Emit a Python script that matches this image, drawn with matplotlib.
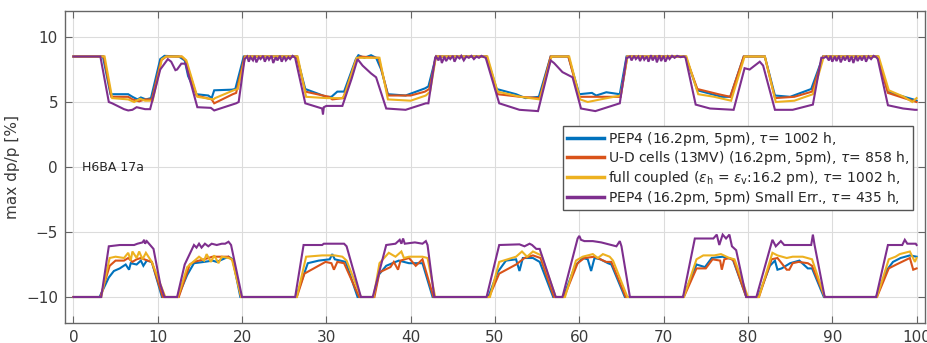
import matplotlib
matplotlib.use("Agg")
import matplotlib.pyplot as plt
from matplotlib.lines import Line2D

plt.rcParams['font.family'] = ['DejaVu Sans']
plt.rcParams['mathtext.fontset'] = 'dejavusans'

# ---- data: momentum acceptance along the ring (s in % of circumference) ----
# PEP4 (16.2pm, 5pm)
pep4_up_s = [0, 3.5, 4.4, 6.5, 7.0, 7.6, 8.0, 8.6, 9.2, 10.3, 10.8, 12.5, 13.2, 13.6, 14.6, 16.0,
             16.4, 16.7, 18.8, 19.2, 20.2, 26.5, 27.5, 30.0, 30.6, 31.3, 32.1, 33.5, 33.8, 34.5,
             35.3, 35.9, 36.5, 37.3, 39.4, 41.7, 42.1, 43.0, 49.0, 50.2, 52.5, 53.6, 55.2, 56.6,
             58.7, 60.0, 61.5, 62.0, 63.2, 64.8, 65.6, 72.6, 74.0, 76.9, 77.9, 79.5, 82.0, 83.2,
             85.0, 87.5, 88.9, 95.4, 96.6, 98.0, 99.6, 100]
pep4_up = [8.5, 8.5, 5.6, 5.6, 5.4, 5.2, 5.35, 5.2, 5.3, 8.3, 8.55, 8.5, 8.2, 7.0, 5.6, 5.5,
           5.3, 5.9, 5.95, 6.0, 8.5, 8.5, 6.0, 5.4, 5.4, 5.8, 5.8, 8.3, 8.6, 8.4,
           8.6, 8.4, 7.5, 5.6, 5.5, 6.05, 6.2, 8.5, 8.5, 6.0, 5.6, 5.3, 5.4, 8.5,
           8.5, 5.6, 5.7, 5.5, 5.75, 5.6, 8.5, 8.5, 5.9, 5.4, 5.4, 8.5, 8.5, 5.5,
           5.4, 6.0, 8.5, 8.5, 5.8, 5.5, 5.2, 5.1]
pep4_lo_s = [0, 3.1, 4.2, 4.8, 5.5, 6.2, 6.6, 6.8, 7.5, 8.0, 8.3, 8.7, 9.3, 10.5, 12.4, 13.5,
             14.3, 15.5, 16.5, 17.0, 18.4, 18.9, 19.8, 26.4, 27.8, 29.1, 30.4, 30.7, 31.0, 32.3,
             33.7, 35.6, 36.2, 37.1, 38.2, 38.6, 39.8, 41.4, 42.6, 49.2, 50.3, 51.3, 52.5, 52.9,
             53.3, 54.5, 55.3, 56.9, 58.1, 59.5, 60.4, 61.0, 61.4, 61.8, 62.5, 63.4, 63.8, 65.4,
             72.3, 73.9, 74.9, 75.7, 77.0, 78.2, 79.8, 81.2, 82.6, 83.2, 83.5, 84.0, 85.0, 86.1,
             87.1, 87.6, 89.0, 95.2, 96.5, 97.2, 98.1, 99.2, 100]
pep4_lo = [-10, -10, -8.5, -8.0, -7.8, -7.5, -7.9, -7.4, -7.5, -7.2, -7.6, -7.2, -7.3, -10, -10, -8.3,
           -7.4, -7.3, -7.2, -7.3, -6.9, -7.1, -10, -10, -7.4, -7.2, -7.1, -6.7, -7.1, -7.3,
           -10, -10, -8.3, -7.6, -7.3, -7.2, -7.4, -7.4, -10, -10, -8.1, -7.2, -7.1, -8.0,
           -7.0, -7.0, -7.3, -10, -10, -7.6, -7.0, -7.1, -8.0, -7.0, -7.1, -7.4, -7.5, -10,
           -10, -7.5, -7.7, -7.0, -6.9, -7.1, -10, -10, -7.6, -7.2, -7.9, -7.8, -7.4, -7.2,
           -7.8, -7.8, -10, -10, -7.9, -7.3, -7.0, -6.8, -6.9]

# U-D cells (13MV)
ud_up_s = [0, 3.6, 4.5, 6.5, 7.0, 7.8, 8.5, 9.3, 10.4, 11.0, 12.8, 13.3, 14.6, 16.4, 16.7, 18.9,
           19.3, 20.3, 26.5, 27.5, 30.3, 30.7, 32.0, 33.5, 34.0, 36.2, 37.3, 40.0, 41.7, 42.2,
           43.0, 49.0, 50.3, 53.0, 55.3, 56.6, 58.7, 60.0, 62.0, 64.9, 65.7, 72.6, 74.0, 76.5,
           77.9, 79.5, 82.0, 83.2, 85.5, 87.6, 88.9, 95.4, 96.6, 98.5, 100]
ud_up = [8.5, 8.5, 5.4, 5.4, 5.2, 5.05, 5.2, 5.2, 8.2, 8.5, 8.5, 8.2, 5.5, 5.2, 4.9, 5.6,
         5.7, 8.5, 8.5, 5.8, 5.4, 5.2, 5.3, 8.2, 8.5, 8.4, 5.5, 5.5, 5.8, 6.0,
         8.5, 8.5, 5.6, 5.4, 5.3, 8.5, 8.5, 5.4, 5.4, 5.4, 8.5, 8.5, 6.0, 5.6,
         5.4, 8.5, 8.5, 5.3, 5.4, 5.8, 8.5, 8.5, 5.7, 5.3, 5.0]
ud_lo_s = [0, 3.2, 4.3, 5.0, 6.0, 6.5, 7.0, 7.5, 8.0, 8.8, 9.3, 10.6, 12.5, 13.8, 14.3, 15.5,
           16.5, 18.4, 18.9, 19.9, 26.5, 27.4, 29.9, 30.6, 30.9, 31.3, 32.1, 33.9, 35.7, 36.3,
           37.6, 38.0, 38.5, 38.8, 39.8, 40.6, 41.4, 42.7, 49.3, 50.5, 52.5, 53.5, 54.5, 55.4,
           57.0, 58.2, 59.8, 60.6, 61.8, 63.2, 63.8, 65.5, 72.4, 73.9, 75.0, 75.8, 76.7, 76.9,
           77.2, 77.8, 78.3, 79.8, 81.3, 82.8, 83.5, 84.6, 84.9, 85.3, 86.0, 87.1, 87.6, 89.1,
           95.3, 96.7, 97.6, 99.2, 99.6, 100]
ud_lo = [-10, -10, -7.6, -7.2, -7.2, -7.0, -7.3, -7.1, -7.0, -7.2, -7.3, -10, -10, -7.5, -7.3, -7.1,
         -6.9, -6.9, -7.2, -10, -10, -8.2, -7.3, -7.4, -7.9, -7.3, -7.4, -10, -10, -8.1,
         -7.7, -7.3, -7.9, -7.2, -7.0, -7.6, -7.1, -10, -10, -8.2, -7.5, -7.0, -6.8, -7.0,
         -10, -10, -7.4, -7.0, -6.9, -7.3, -7.3, -10, -10, -7.8, -7.8, -7.1, -7.2, -7.9,
         -7.1, -7.0, -7.2, -10, -10, -7.1, -7.0, -7.9, -7.9, -7.4, -7.3, -7.4, -7.6, -10,
         -10, -7.8, -7.5, -7.0, -7.9, -7.8]

# full coupled (eps_h = eps_v)
fc_up_s = [0, 3.7, 4.6, 6.5, 7.2, 7.9, 8.5, 9.4, 10.5, 11.0, 12.9, 13.4, 14.7, 16.6, 16.8, 19.0,
           19.5, 20.4, 26.6, 27.6, 30.0, 31.9, 32.2, 33.6, 36.3, 37.3, 40.0, 41.8, 42.3, 43.0,
           49.1, 50.3, 53.0, 55.3, 56.7, 58.8, 60.1, 61.0, 62.5, 64.9, 65.7, 72.7, 74.1, 76.0,
           78.0, 79.6, 82.0, 83.3, 85.5, 87.7, 89.0, 95.5, 96.7, 98.5, 99.5, 100]
fc_up = [8.5, 8.5, 5.3, 5.2, 5.0, 5.25, 5.1, 5.1, 8.3, 8.5, 8.5, 8.2, 5.4, 5.2, 5.3, 5.9,
         6.0, 8.5, 8.5, 5.4, 5.3, 5.3, 5.6, 8.4, 8.4, 5.2, 5.1, 5.5, 5.8, 8.5,
         8.5, 5.8, 5.4, 5.2, 8.5, 8.5, 5.2, 5.0, 5.2, 5.5, 8.5, 8.5, 5.6, 5.4,
         5.1, 8.5, 8.5, 5.0, 5.1, 5.6, 8.5, 8.5, 5.9, 5.4, 5.0, 5.3]
fc_lo_s = [0, 3.3, 4.3, 5.0, 6.0, 6.5, 6.8, 7.0, 7.5, 7.8, 8.2, 8.6, 9.0, 9.3, 10.9, 12.4,
           13.5, 14.9, 15.5, 15.8, 16.3, 16.7, 17.2, 17.6, 18.4, 18.8, 19.9, 26.5, 27.6, 29.5,
           31.0, 31.9, 32.4, 34.1, 35.6, 36.3, 37.4, 38.2, 38.9, 39.2, 39.8, 41.4, 42.0, 42.9,
           49.4, 50.5, 52.5, 53.2, 53.8, 54.5, 55.5, 57.2, 58.3, 59.6, 60.4, 61.6, 62.2, 62.8,
           63.6, 64.0, 65.7, 72.4, 73.9, 74.7, 76.0, 76.8, 77.8, 78.4, 80.0, 81.3, 82.9, 83.5,
           84.6, 85.3, 86.5, 87.6, 89.1, 95.3, 96.7, 97.5, 98.0, 99.2, 99.8, 100]
fc_lo = [-10, -10, -7.0, -6.9, -7.0, -6.6, -7.2, -6.5, -7.0, -6.5, -7.1, -6.6, -7.0, -7.3, -10, -10,
         -7.7, -6.9, -7.2, -6.7, -7.3, -6.8, -7.4, -6.9, -7.0, -7.1, -10, -10, -6.9, -6.8,
         -6.8, -6.9, -7.2, -10, -10, -7.4, -6.6, -6.9, -6.5, -7.0, -6.9, -6.9, -7.0, -10,
         -10, -7.3, -6.9, -6.5, -6.9, -6.5, -6.8, -10, -10, -7.2, -6.9, -6.7, -7.0, -6.7,
         -6.9, -7.2, -10, -10, -7.1, -6.8, -6.8, -6.7, -7.0, -7.1, -10, -10, -6.6, -6.8,
         -7.0, -6.9, -6.9, -7.1, -10, -10, -7.1, -6.9, -6.7, -6.5, -7.3, -7.0]

# PEP4 (16.2pm, 5pm) with small errors
se_up_s = [0, 3.2, 4.2, 4.6, 6.0, 6.5, 7.0, 7.5, 8.5, 9.1, 10.3, 11.2, 11.6, 12.1, 12.3, 12.8,
           13.3, 14.7, 16.3, 16.7, 19.3, 19.6,
           20.3, 20.6, 20.8, 21.0, 21.3, 21.5, 21.7, 22.0, 22.2, 22.5, 22.7, 23.0, 23.2, 23.5,
           23.7, 24.0, 24.2, 24.5, 24.7, 25.0, 25.2, 25.5, 25.7, 26.0, 26.3,
           27.5, 29.5, 29.6, 29.7, 30.0, 31.9, 33.0, 33.7, 34.3, 34.8, 35.3, 35.9, 37.1, 39.4,
           41.8, 42.1, 42.9,
           43.0, 43.3, 43.5, 43.7, 44.0, 44.2, 44.5, 44.7, 45.0, 45.2, 45.5, 45.8, 46.0, 46.3,
           46.6, 46.9, 47.2, 47.5, 47.8, 48.1, 48.4, 48.7,
           48.9, 50.5, 52.9, 55.1, 56.6, 57.0, 58.0, 59.2, 60.2, 61.9, 64.8, 65.6,
           65.7, 66.0, 66.2, 66.5, 66.7, 67.0, 67.2, 67.5, 67.7, 68.0, 68.2, 68.5, 68.7, 69.0,
           69.2, 69.5, 69.7, 70.0, 70.2, 70.5, 70.7, 71.0, 71.3, 71.6, 72.0, 72.4,
           72.6, 73.8, 75.5, 78.3, 79.6, 80.2, 80.8, 81.4, 81.8, 83.2, 85.3, 87.7, 88.7,
           89.0, 89.3, 89.6, 89.8, 90.0, 90.3, 90.5, 90.8, 91.0, 91.3, 91.5, 91.8, 92.0, 92.3,
           92.5, 92.8, 93.0, 93.3, 93.5, 93.8, 94.0, 94.3, 94.6, 94.9, 95.2,
           95.4, 96.6, 98.4, 99.8, 100]
se_up = [8.5, 8.5, 5.0, 4.9, 4.45, 4.35, 4.4, 4.6, 4.45, 4.45, 7.5, 8.3, 8.1, 7.45, 7.5, 7.95,
         7.95, 4.6, 4.55, 4.35, 4.9, 5.0,
         8.3, 8.5, 8.1, 8.45, 8.2, 8.55, 8.05, 8.45, 8.3, 8.55, 8.1, 8.5, 8.25, 8.55,
         8.0, 8.45, 8.2, 8.55, 8.1, 8.5, 8.2, 8.45, 8.3, 8.55, 8.4,
         4.9, 4.5, 4.05, 4.6, 4.7, 4.7, 6.8, 8.3, 7.8, 7.5, 7.2, 6.9, 4.5, 4.4,
         4.9, 4.9, 8.4,
         8.5, 8.2, 8.55, 8.0, 8.5, 8.15, 8.45, 8.3, 8.55, 8.1, 8.5, 8.35, 8.55, 8.2,
         8.5, 8.4, 8.55, 8.3, 8.5, 8.4, 8.55, 8.45,
         8.4, 4.9, 4.4, 4.3, 8.2, 8.0, 7.3, 6.9, 4.5, 4.3, 4.9, 8.4,
         8.4, 8.5, 8.2, 8.55, 8.3, 8.5, 8.15, 8.55, 8.25, 8.5, 8.1, 8.6, 8.2, 8.55,
         8.05, 8.6, 8.15, 8.55, 8.1, 8.5, 8.3, 8.55, 8.4, 8.55, 8.45, 8.5,
         8.4, 4.8, 4.5, 4.4, 7.6, 7.5, 7.8, 8.1, 7.8, 4.4, 4.4, 4.8, 8.4,
         8.4, 8.5, 8.2, 8.55, 8.1, 8.5, 8.15, 8.55, 8.05, 8.5, 8.2, 8.55, 8.1, 8.5,
         8.0, 8.55, 8.15, 8.5, 8.2, 8.55, 8.1, 8.5, 8.3, 8.55, 8.45,
         8.3, 4.75, 4.5, 4.4, 4.4]
se_lo_s = [0, 3.3, 4.2, 5.5, 6.5, 7.2, 7.6, 8.2, 8.4, 8.5, 8.7, 9.1, 9.5, 10.3, 10.8, 12.3,
           13.2, 14.3, 14.6, 14.9, 15.2, 15.6, 16.0, 16.4, 17.0, 17.6, 18.0, 18.4, 18.7, 20.0,
           26.3, 27.3, 29.5, 29.7, 31.7, 32.1, 32.4, 34.1, 35.5, 37.1, 38.2, 38.7, 38.9, 39.1,
           39.3, 40.5, 41.4, 41.8, 42.0, 42.8, 49.0, 50.5, 52.9, 53.5, 54.1, 54.4, 54.9, 55.3,
           57.2, 58.0, 59.8, 60.0, 60.2, 60.6, 61.6, 62.6, 64.4, 64.8, 65.0, 66.0, 72.3, 73.7,
           75.9, 76.3, 76.6, 77.0, 77.4, 77.8, 78.1, 78.6, 79.8, 81.0, 82.9, 83.3, 83.9, 84.3,
           84.9, 87.5, 87.7, 87.9, 89.1, 95.2, 96.6, 98.3, 98.6, 98.9, 99.9, 100]
se_lo = [-10, -10, -6.1, -6.0, -6.0, -6.0, -5.9, -5.8, -5.6, -5.9, -5.7, -6.0, -6.3, -9.0, -10, -10,
         -7.5, -6.0, -6.2, -5.9, -6.2, -5.9, -6.1, -5.9, -6.0, -5.9, -5.9, -5.75, -6.0, -10,
         -10, -6.0, -6.0, -5.9, -5.9, -5.9, -6.1, -10, -10, -6.0, -5.9, -5.6, -5.9, -5.5,
         -5.9, -5.8, -5.9, -5.7, -6.0, -10, -10, -6.0, -5.95, -6.1, -5.9, -6.0, -6.3, -6.3,
         -10, -10, -5.5, -5.3, -5.6, -5.7, -5.7, -5.8, -6.1, -5.7, -6.1, -10, -10, -5.5,
         -5.5, -5.2, -6.0, -5.2, -5.5, -5.2, -6.1, -6.4, -10, -10, -5.6, -6.1, -5.7, -6.0,
         -6.0, -6.0, -5.2, -6.0, -10, -10, -6.0, -6.0, -5.6, -5.9, -5.9, -6.0]

labels = [
    r"PEP4 (16.2pm, 5pm), $\tau$= 1002 h,",
    r"U-D cells (13MV) (16.2pm, 5pm), $\tau$= 858 h,",
    r"full coupled ($\epsilon_{\mathrm{h}}$ = $\epsilon_{\mathrm{v}}$:16.2 pm), $\tau$= 1002 h,",
    r"PEP4 (16.2pm, 5pm) Small Err., $\tau$= 435 h,",
]
colors = ["#0072BD", "#D95319", "#EDB120", "#7E2F8E"]
series = [
    (pep4_up_s, pep4_up, pep4_lo_s, pep4_lo),
    (ud_up_s, ud_up, ud_lo_s, ud_lo),
    (fc_up_s, fc_up, fc_lo_s, fc_lo),
    (se_up_s, se_up, se_lo_s, se_lo),
]

fig = plt.figure(figsize=(9.28, 3.43), dpi=100)
ax = fig.add_axes([0.070, 0.0583, 0.9268, 0.9096])

for (us, uv, ls, lv), c in zip(series, colors):
    ax.plot(us, uv, color=c, lw=1.5, solid_joinstyle='miter')
    ax.plot(ls, lv, color=c, lw=1.5, solid_joinstyle='miter')

ax.set_xlim(-1, 101)
ax.set_ylim(-12, 12)
ax.set_xticks(range(0, 101, 10))
ax.set_yticks([-10, -5, 0, 5, 10])
ax.grid(True, color="#dcdcdc", lw=0.8)
ax.set_axisbelow(True)
for sp in ax.spines.values():
    sp.set_color("#666666")
    sp.set_linewidth(1.0)
ax.tick_params(direction='in', top=True, right=True, length=5, width=0.8,
               color="#666666", labelcolor="#3a3a3a", labelsize=11, pad=5)
ax.set_ylabel("max dp/p [%]", fontsize=11, color="#3a3a3a", labelpad=4)

ax.text(1.0, 0, "H6BA 17a", fontsize=9, color="#262626", va='center', ha='left')

handles = [Line2D([], [], color=c, lw=2.5) for c in colors]
leg = ax.legend(handles, labels, loc='upper right', bbox_to_anchor=(0.986, 0.631),
                borderaxespad=0, fontsize=10, handlelength=2.7, handletextpad=0.3,
                labelspacing=0.12, borderpad=0.25, fancybox=False, framealpha=1,
                edgecolor="#555555")
leg.get_frame().set_linewidth(1.0)
for t in leg.get_texts():
    t.set_color("#262626")

fig.savefig("out.png", dpi=100)
